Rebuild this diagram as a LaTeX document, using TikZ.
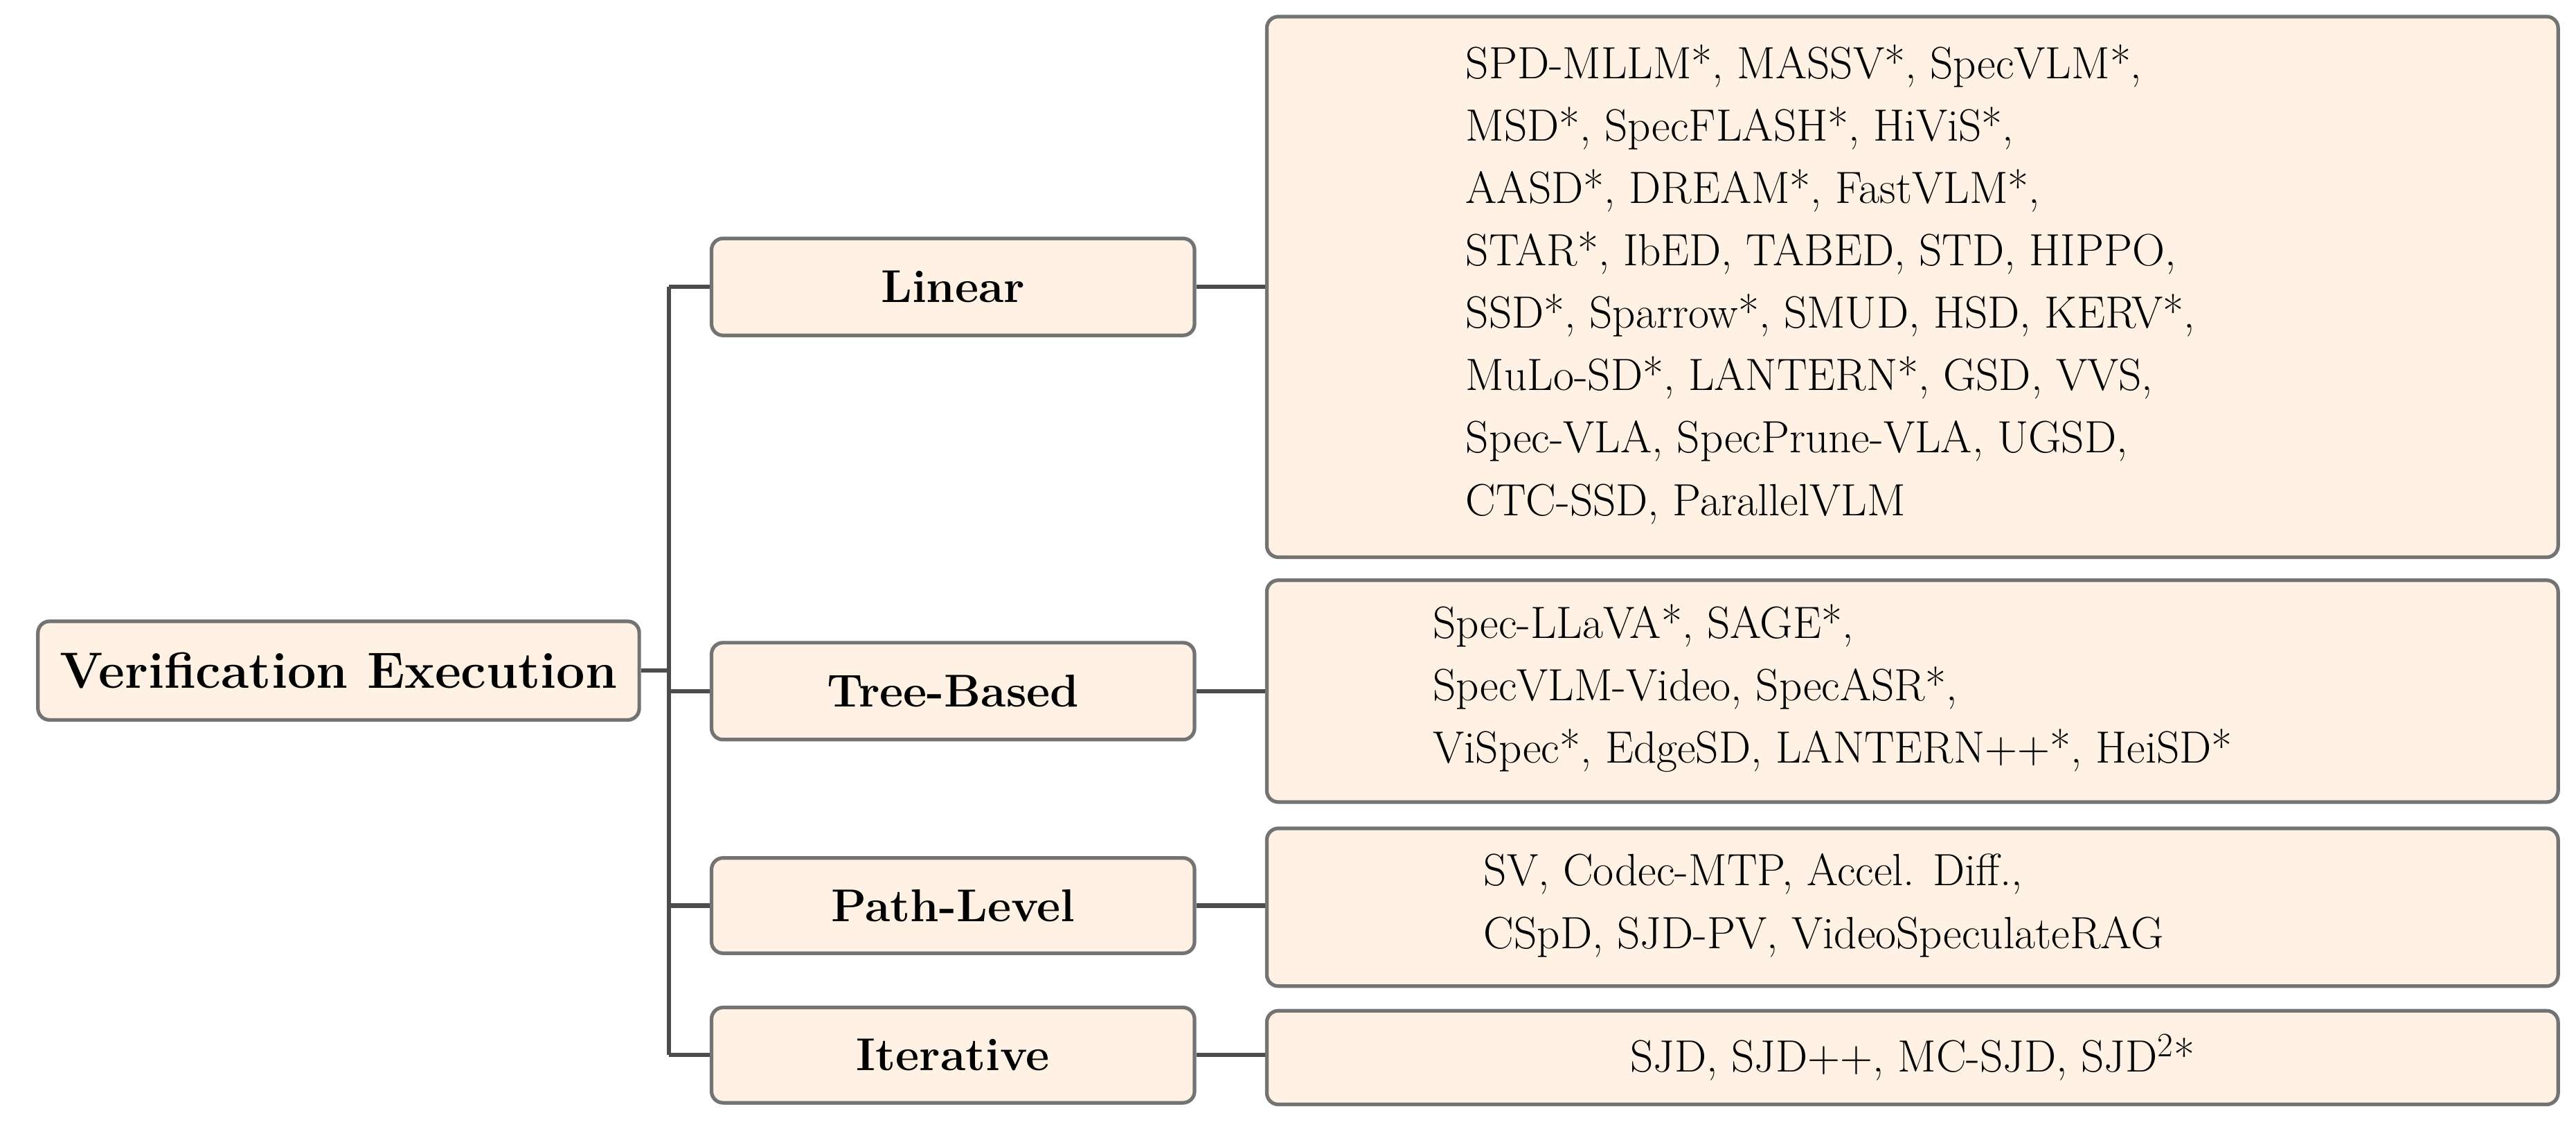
\documentclass[tikz,border=0pt]{standalone}
\usepackage{fontspec}
\begin{document}
\begin{tikzpicture}[x=1pt,y=-1pt,
 box/.style={draw=black!55,line width=2.2pt,rounded corners=7pt,fill=orange!10!white,inner sep=0pt},
 lbl/.style={font=\fontsize{28}{33}\selectfont\bfseries},
 txt/.style={font=\fontsize{27.5}{38}\selectfont,align=left,anchor=west,inner sep=0pt},
 con/.style={draw=black!70,line width=2.6pt}]
\useasboundingbox (0,0) rectangle (1568,687);
\node[box,minimum width=366,minimum height=60,anchor=north west,font=\fontsize{31}{34}\selectfont\bfseries] (root) at (22,377) {Verification Execution};
\node[box,lbl,minimum width=294,minimum height=59,anchor=north west] (c1) at (432,144) {Linear};
\node[box,lbl,minimum width=294,minimum height=59,anchor=north west] (c2) at (432,390) {Tree-Based};
\node[box,lbl,minimum width=294,minimum height=58,anchor=north west] (c3) at (432,521) {Path-Level};
\node[box,lbl,minimum width=294,minimum height=58,anchor=north west] (c4) at (432,612) {Iterative};
\node[box,minimum width=786,minimum height=329,anchor=north west] (l1) at (770,9) {};
\node[box,minimum width=786,minimum height=135,anchor=north west] (l2) at (770,352) {};
\node[box,minimum width=786,minimum height=96,anchor=north west] (l3) at (770,503) {};
\node[box,minimum width=786,minimum height=57,anchor=north west] (l4) at (770,614) {};
\node[txt] (t1) at (892,173) {SPD-MLLM*, MASSV*, SpecVLM*,\\MSD*, SpecFLASH*, HiViS*,\\AASD*, DREAM*, FastVLM*,\\STAR*, IbED, TABED, STD, HIPPO,\\SSD*, Sparrow*, SMUD, HSD, KERV*,\\MuLo-SD*, LANTERN*, GSD, VVS,\\Spec-VLA, SpecPrune-VLA, UGSD,\\CTC-SSD, ParallelVLM};
\node[txt] (t2) at (872,419) {Spec-LLaVA*, SAGE*,\\SpecVLM-Video, SpecASR*,\\ViSpec*, EdgeSD, LANTERN++*, HeiSD*};
\node[txt] (t3) at (903,551) {SV, Codec-MTP, Accel. Diff.,\\CSpD, SJD-PV, VideoSpeculateRAG};
\node[font=\fontsize{27.5}{33}\selectfont,inner sep=0pt] (t4) at (l4.center) {SJD, SJD++, MC-SJD, SJD$^{2}$*};
\coordinate (top) at (c1.west -| 407,0);
\coordinate (bot) at (c4.west -| 407,0);
\draw[con] (top) -- (bot);
\draw[con] (root.east) -- (root.east -| top);
\draw[con] (top) -- (c1.west);
\draw[con] (c2.west -| top) -- (c2.west);
\draw[con] (c3.west -| top) -- (c3.west);
\draw[con] (bot) -- (c4.west);
\draw[con] (c1.east) -- (c1.east -| l1.west);
\draw[con] (c2.east) -- (c2.east -| l2.west);
\draw[con] (c3.east) -- (c3.east -| l3.west);
\draw[con] (c4.east) -- (c4.east -| l4.west);
\end{tikzpicture}
\end{document}
